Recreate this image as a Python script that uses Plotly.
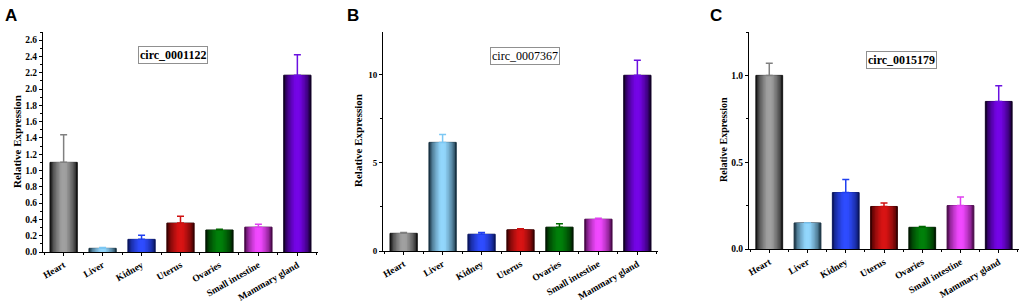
import plotly.graph_objects as go

tissues = ["Heart", "Liver", "Kidney", "Uterus", "Ovaries", "Small intestine", "Mammary gland"]

a_vals = [1.10, 0.045, 0.155, 0.355, 0.27, 0.305, 2.17]
a_err = [0.34, 0.010, 0.050, 0.085, 0.010, 0.035, 0.25]
b_vals = [1.00, 6.15, 0.95, 1.20, 1.35, 1.80, 9.95]
b_err = [0.05, 0.45, 0.10, 0.06, 0.20, 0.05, 0.85]
c_vals = [1.00, 0.15, 0.325, 0.245, 0.125, 0.25, 0.85]
c_err = [0.07, 0.0, 0.075, 0.020, 0.005, 0.05, 0.09]

titles = ["circ_0001122", "circ_0007367", "circ_0015179"]
letters = ["A", "B", "C"]

edge_cols = ["#151515", "#1a3444", "#0a1660", "#3a0000", "#001a00", "#4a0a4a", "#120028"]
light_cols = ["#a0a0a0", "#92d6fc", "#2e4cff", "#d81414", "#00800a", "#f048ff", "#7404e6"]
err_cols = ["#808080", "#7cc8f4", "#2040f0", "#d01010", "#006a00", "#e040f0", "#6a10e0"]

W, H = 1021, 302


def hx(c):
    c = c.lstrip("#")
    return [int(c[i:i + 2], 16) for i in (0, 2, 4)]


def mix(c1, c2, t):
    a, b = hx(c1), hx(c2)
    return "rgb({},{},{})".format(*[round(a[i] + (b[i] - a[i]) * t) for i in range(3)])


panels = [
    dict(vals=a_vals, err=a_err, xpx=(43, 318), ypx=(252, 32), rng=[0, 2.7],
         dtick=0.2, minor=0.1, fmt=".1f", tfs=9.5, title_pos=(173, 55), bold_title=True,
         letter_px=(3, 15), ytitle_px=(17, 142), ytitle_fs=11),
    dict(vals=b_vals, err=b_err, xpx=(383, 658), ypx=(251, 32), rng=[0, 12.4],
         dtick=5, minor=2.5, fmt="d", tfs=9, title_pos=(525, 56), bold_title=False,
         letter_px=(345, 15), ytitle_px=(358, 141), ytitle_fs=11),
    dict(vals=c_vals, err=c_err, xpx=(749, 1019), ypx=(249, 32), rng=[0, 1.25],
         dtick=0.5, minor=0.25, fmt=".1f", tfs=9.5, title_pos=(901, 60), bold_title=True,
         letter_px=(708, 15), ytitle_px=(723, 140), ytitle_fs=10),
]

fig = go.Figure()
layout = dict(width=W, height=H, margin=dict(l=0, r=0, t=0, b=0, autoexpand=False),
              plot_bgcolor="white", paper_bgcolor="white", showlegend=False,
              barmode="overlay", annotations=[])

n_layers = 9
xs = list(range(len(tissues)))
for p_i, p in enumerate(panels):
    sfx = "" if p_i == 0 else str(p_i + 1)
    xa, ya = "x" + sfx, "y" + sfx
    # gradient bar layers
    for k in range(n_layers):
        t = k / (n_layers - 1)
        width = 0.70 * (1 - t) + 0.10 * t
        frac = min(1.0, (t ** 0.6) * 1.05)
        cols = [mix(edge_cols[j], light_cols[j], frac) for j in range(len(tissues))]
        fig.add_trace(go.Bar(
            x=xs, y=p["vals"], width=width, marker=dict(
                color=cols,
                line=dict(color=edge_cols if k == 0 else cols, width=1 if k == 0 else 0)),
            xaxis=xa, yaxis=ya, hoverinfo="skip"))
    # error bars (one colour per tissue)
    for j in range(len(tissues)):
        fig.add_trace(go.Scatter(
            x=[xs[j]], y=[p["vals"][j]], mode="markers",
            marker=dict(size=1, color="rgba(0,0,0,0)"),
            error_y=dict(type="data", array=[p["err"][j]], arrayminus=[0], symmetric=False,
                         color=err_cols[j], thickness=1.5, width=3.5),
            xaxis=xa, yaxis=ya, hoverinfo="skip"))

    x0, x1 = p["xpx"]
    yb, yt = p["ypx"]
    xdom = [x0 / W, x1 / W]
    ydom = [(H - yb) / H, (H - yt) / H]
    layout["xaxis" + sfx] = dict(
        domain=xdom, anchor=ya, range=[-0.53, 6.53], tickmode="array", tickvals=xs,
        ticktext=["<b>%s</b>" % t for t in tissues], tickangle=-30, automargin=False,
        tickfont=dict(family="Liberation Serif", size=9.5, color="black"),
        showline=True, linecolor="black", linewidth=1, ticks="outside", ticklen=3,
        tickcolor="black", showgrid=False, zeroline=False,
        minor=dict(tick0=0.5, dtick=1, ticks="outside", ticklen=2, tickcolor="black"))
    layout["yaxis" + sfx] = dict(
        domain=ydom, anchor=xa, range=p["rng"], dtick=p["dtick"], tick0=0, automargin=False,
        tickformat=p["fmt"], tickfont=dict(family="Liberation Serif", size=p["tfs"], color="black",
                                           weight="bold"),
        showline=True, linecolor="black", linewidth=1, ticks="outside", ticklen=3,
        tickcolor="black", showgrid=False, zeroline=False,
        minor=dict(dtick=p["minor"], ticks="outside", ticklen=2, tickcolor="black"))

    tx, ty = p["title_pos"]
    ttl = "<b>%s</b>" % titles[p_i] if p["bold_title"] else titles[p_i]
    layout["annotations"].append(dict(
        x=tx / W, y=(H - ty) / H, xref="paper", yref="paper", text=ttl, showarrow=False,
        xanchor="center", yanchor="middle",
        font=dict(family="Liberation Serif", size=12, color="black"),
        bordercolor="#909090", borderwidth=1, borderpad=1, bgcolor="white"))
    lx, ly = p["letter_px"]
    layout["annotations"].append(dict(
        x=lx / W, y=(H - ly) / H, xref="paper", yref="paper", text="<b>%s</b>" % letters[p_i],
        showarrow=False, xanchor="left", yanchor="middle",
        font=dict(family="Liberation Sans", size=17, color="black")))
    yx, yy = p["ytitle_px"]
    layout["annotations"].append(dict(
        x=yx / W, y=(H - yy) / H, xref="paper", yref="paper", text="<b>Relative Expression</b>",
        showarrow=False, xanchor="center", yanchor="middle", textangle=-90,
        font=dict(family="Liberation Serif", size=p["ytitle_fs"], color="black")))

fig.update_layout(**layout)
fig.write_html("out.html", config={"displayModeBar": False},
               post_script="document.body.style.margin='0';document.body.style.overflow='hidden';")
